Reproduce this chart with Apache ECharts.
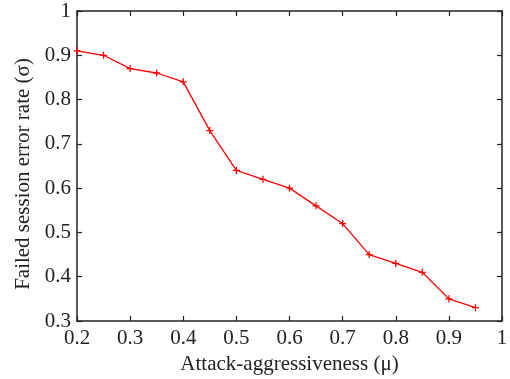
<!DOCTYPE html>
<html><head><meta charset="utf-8">
<script src="https://cdn.jsdelivr.net/npm/echarts@6/dist/echarts.min.js"></script>
<style>html,body{margin:0;padding:0;background:#fff}#c{width:510px;height:379px}</style>
</head><body><div id="c"></div>
<script>
const xValues = [0.2,0.25,0.3,0.35,0.4,0.45,0.5,0.55,0.6,0.65,0.7,0.75,0.8,0.85,0.9,0.95];
const yValues = [0.91,0.90,0.87,0.86,0.84,0.73,0.64,0.62,0.60,0.56,0.52,0.45,0.43,0.41,0.35,0.33];
const xTitle = 'Attack-aggressiveness (μ)';
const yTitle = 'Failed session error rate (σ)';

const font = '"Liberation Serif", "DejaVu Serif", serif';
const fmt = v => { const r = Math.round(v*10)/10; return r === 1 ? '1' : r.toFixed(1); };
const axisLine = {show:true, lineStyle:{color:'#222', width:1.5}};
const tick = {show:true, inside:true, length:5, lineStyle:{color:'#222', width:1.2}};
const chart = echarts.init(document.getElementById('c'));
chart.setOption({
  animation:false,
  backgroundColor:'#fff',
  grid:{left:77, right:8, top:11, bottom:58, containLabel:false, outerBoundsMode:'none'},
  xAxis:[{
    type:'value', min:0.2, max:1, interval:0.1, position:'bottom',
    axisLine, axisTick:tick, splitLine:{show:false},
    axisLabel:{formatter:fmt, color:'#222', fontFamily:font, fontSize:21, margin:7},
    name:xTitle, nameLocation:'middle', nameGap:32,
    nameTextStyle:{color:'#222', fontFamily:font, fontSize:21}
  },{
    type:'value', min:0.2, max:1, interval:0.1, position:'top',
    axisLine, axisTick:tick, axisLabel:{show:false}, splitLine:{show:false}
  }],
  yAxis:[{
    type:'value', min:0.3, max:1, interval:0.1, position:'left',
    axisLine, axisTick:tick, splitLine:{show:false},
    axisLabel:{formatter:fmt, color:'#222', fontFamily:font, fontSize:21, margin:6},
    name:yTitle, nameLocation:'middle', nameGap:43,
    nameTextStyle:{color:'#222', fontFamily:font, fontSize:21, padding:[0,16,0,0]}
  },{
    type:'value', min:0.3, max:1, interval:0.1, position:'right',
    axisLine, axisTick:tick, axisLabel:{show:false}, splitLine:{show:false}
  }],
  series:[{
    type:'line',
    data:xValues.map((x,i)=>[x,yValues[i]]),
    lineStyle:{color:'#ff0000', width:1.3},
    symbol:'path://M0,5L10,5M5,0L5,10',
    symbolSize:7,
    itemStyle:{color:'none', borderColor:'#ff0000', borderWidth:1.3},
    showSymbol:true
  }]
});
</script></body></html>
